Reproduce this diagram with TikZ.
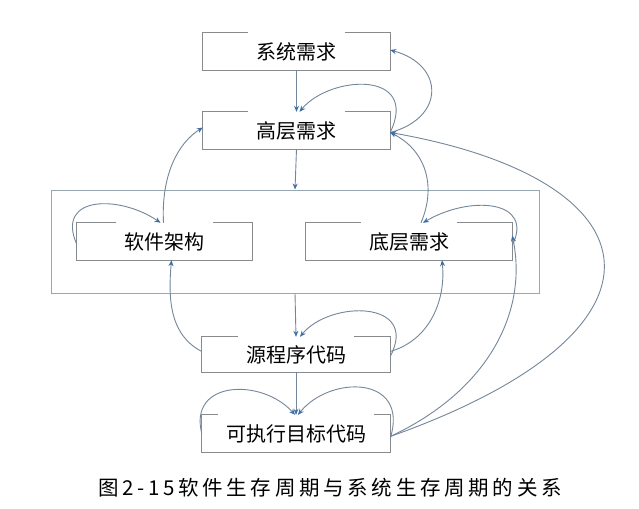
\documentclass[tikz,border=0pt]{standalone}
\usepackage{fontspec}
\newfontfamily\cjk{Noto Sans CJK SC}
\newfontfamily\cjkcap[LetterSpace=18]{Noto Sans CJK SC}
\usetikzlibrary{arrows.meta}
\definecolor{boxc}{HTML}{878B8E}
\definecolor{contc}{HTML}{98A8B0}
\definecolor{linec}{HTML}{74869A}
\definecolor{tipc}{HTML}{3F6FA6}
\tikzset{
  boxshape/.style={rectangle, inner sep=0pt},
  txt/.style={font=\cjk\fontsize{20}{23}\selectfont, inner xsep=8pt, inner ysep=2pt, text=black},
  boxline/.style={draw=boxc, line width=1pt},
  contline/.style={draw=contc, line width=1pt},
  conn/.style={draw=linec, line width=0.9pt, -{Stealth[length=6pt,width=5pt,color=tipc]}},
}
\begin{document}
\begin{tikzpicture}[x=1pt,y=-1pt]
\useasboundingbox (0,0) rectangle (639,508);
\fill[white] (0,0) rectangle (639,508);
% container
\node[boxshape, minimum width=488pt, minimum height=103pt, contline] (cont) at (295,241.5) {};
% boxes
\node[boxshape, minimum width=187pt, minimum height=37pt] (sys) at (296.5,51.5) {};
\node[boxshape, minimum width=187pt, minimum height=37pt] (high) at (296.5,130.5) {};
\node[boxshape, minimum width=175pt, minimum height=37pt] (arch) at (164.5,241.5) {};
\node[boxshape, minimum width=206pt, minimum height=37pt] (low) at (409,241.5) {};
\node[boxshape, minimum width=188pt, minimum height=35pt] (src) at (296,354.5) {};
\node[boxshape, minimum width=188pt, minimum height=37pt] (exe) at (296,433.5) {};
\node[txt] (sysT) at (sys) {系统需求};
\node[txt] (highT) at (high) {高层需求};
\node[txt] (archT) at (arch) {软件架构};
\node[txt] (lowT) at (low) {底层需求};
\node[txt] (srcT) at (src) {源程序代码};
\node[txt] (exeT) at (exe) {可执行目标代码};
\foreach \n in {sys,high,arch,low,src,exe}{
  \draw[boxline] (\n T.west |- \n.north) -- (\n.north west) -- (\n.south west) -- (\n.south east) -- (\n.north east) -- (\n T.east |- \n.north);
}
% straight arrows
\draw[conn] (sys.south) -- (high.north);
\draw[conn] (high.south) -- (cont.north);
\draw[conn] (cont.south) -- (src.north);
\draw[conn] (src.south) -- (exe.north);
% top feedback
\draw[conn] ([yshift=-2]high.east) .. controls (445,118) and (445,65) .. ([yshift=1.5]sys.east);
\draw[conn] ([yshift=-2]high.east) .. controls (420,70) and (330,75) .. ([xshift=3]high.north);
% architecture
\draw[conn] ([xshift=-1]arch.north) .. controls (161,175) and (178,143) .. ([yshift=3]high.west);
\draw[conn] ([yshift=-3]arch.west) .. controls (55,195) and (120,195) .. ([xshift=-4]arch.north);
\draw[conn] ([yshift=3]src.west) .. controls (170,335) and (168,300) .. ([xshift=7]arch.south);
% low-level requirements
\draw[conn] ([yshift=-4]low.east) .. controls (535,200) and (470,195) .. ([xshift=14]low.north);
\draw[conn] ([xshift=12]low.north) .. controls (437,185) and (425,150) .. ([yshift=-2]high.east);
\draw[conn] ([yshift=3]src.east) .. controls (430,340) and (446,300) .. ([xshift=33]low.south);
\draw[conn] ([yshift=-3]exe.east) .. controls (490,390) and (528,310) .. ([yshift=6]low.east);
% big loop
\draw[conn] ([yshift=-3]exe.east) .. controls (690,330) and (660,180) .. ([yshift=-2]high.east);
% source loop
\draw[conn] ([yshift=-2]src.east) .. controls (420,300) and (330,300) .. ([xshift=4]src.north);
% executable loops
\draw[conn] (exe.west) .. controls (188,380) and (262,378) .. ([xshift=-1]exe.north);
\draw[conn] ([yshift=-5]exe.east) .. controls (410,375) and (330,375) .. ([xshift=2]exe.north);
% caption
\node[font=\cjkcap\fontsize{20.5}{24}\selectfont, text=black] (cap) at (330,488) {图2-15软件生存周期与系统生存周期的关系};
\end{tikzpicture}
\end{document}
